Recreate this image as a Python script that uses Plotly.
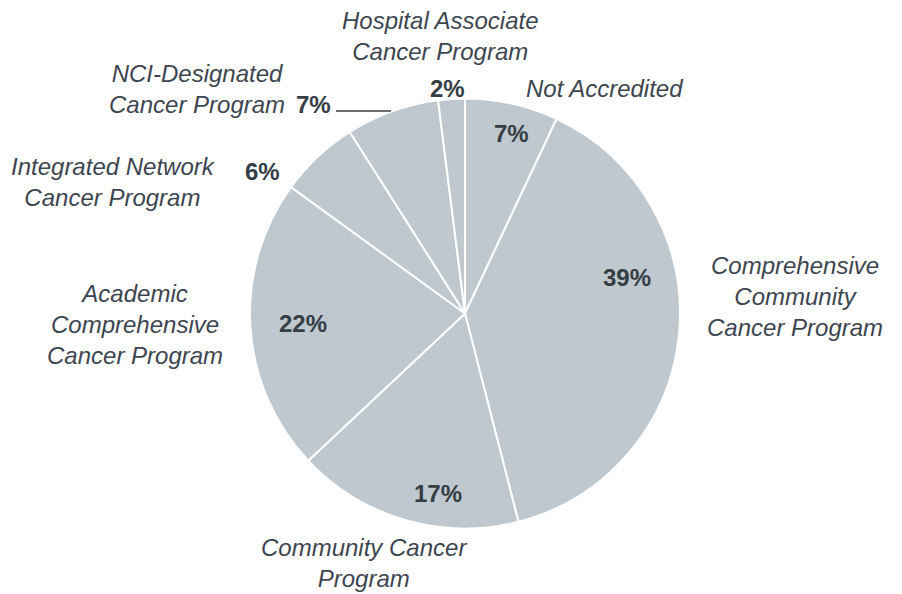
import plotly.graph_objects as go

categories = [
    "Not Accredited",
    "Comprehensive Community Cancer Program",
    "Community Cancer Program",
    "Academic Comprehensive Cancer Program",
    "Integrated Network Cancer Program",
    "NCI-Designated Cancer Program",
    "Hospital Associate Cancer Program",
]
values = [7, 39, 17, 22, 6, 7, 2]
display_names = [
    "Not Accredited",
    "Comprehensive<br>Community<br>Cancer Program",
    "Community Cancer<br>Program",
    "Academic<br>Comprehensive<br>Cancer Program",
    "Integrated Network<br>Cancer Program",
    "NCI-Designated<br>Cancer Program",
    "Hospital Associate<br>Cancer Program",
]

# page body has an 8px margin; figure fills the rest of the window
OFF = 8
W, H = 902 - OFF, 594 - OFF


def px(x):
    return (x - OFF) / W


def py(y):
    return 1 - (y - OFF) / H


name_pos = [(604, 88), (795, 296), (364, 563), (135, 324), (113, 182), (197, 89), (440, 36)]
pct_pos = [(512, 134), (627, 277), (438, 493), (303, 323), (263, 172), (313, 104), (447, 88)]

fig = go.Figure(go.Pie(
    labels=categories,
    values=values,
    sort=False,
    direction="clockwise",
    rotation=0,
    textinfo="none",
    hoverinfo="label+percent",
    marker=dict(colors=["#BEC8CE"] * len(values), line=dict(color="white", width=2)),
    domain=dict(x=[px(250), px(680)], y=[py(529), py(98)]),
    showlegend=False,
))

for name, (x, y) in zip(display_names, name_pos):
    fig.add_annotation(x=px(x), y=py(y), xref="paper", yref="paper",
                       text=f"<i>{name}</i>", showarrow=False,
                       font=dict(family="Liberation Sans, Arial", size=24, color="#3D4650"),
                       xanchor="center", yanchor="middle", align="center", borderpad=0)

for v, (x, y) in zip(values, pct_pos):
    fig.add_annotation(x=px(x), y=py(y), xref="paper", yref="paper",
                       text=f"<b>{v}%</b>", showarrow=False,
                       font=dict(family="Liberation Sans, Arial", size=24, color="#353D45"),
                       xanchor="center", yanchor="middle")

# leader line for NCI-Designated label
fig.add_shape(type="line", xref="paper", yref="paper",
              x0=px(336), x1=px(391), y0=py(111), y1=py(111),
              line=dict(color="#353D45", width=1.5))

fig.update_layout(
    width=W, height=H,
    margin=dict(l=0, r=0, t=0, b=0),
    paper_bgcolor="white",
    plot_bgcolor="white",
)

fig.write_html("out.html")
